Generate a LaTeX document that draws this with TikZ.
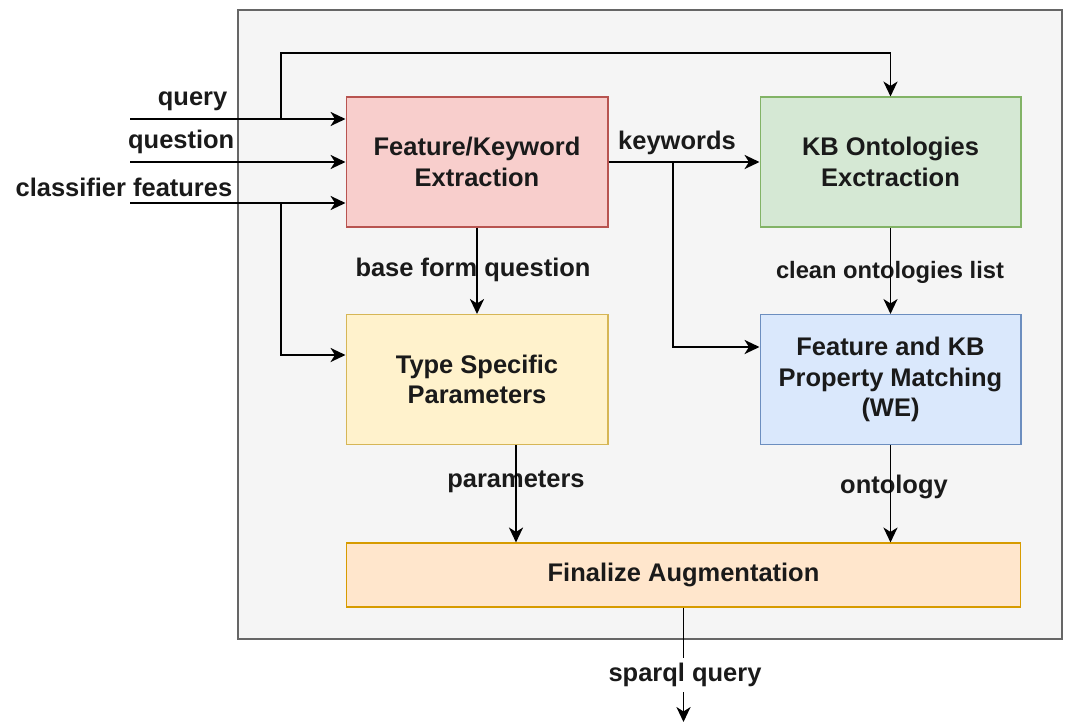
\documentclass[tikz,border=0pt]{standalone}
\usepackage{fontspec}
\setmainfont{Liberation Sans}
\usetikzlibrary{arrows.meta}
\definecolor{outerfill}{HTML}{F5F5F5}
\definecolor{outerline}{HTML}{666666}
\definecolor{redfill}{HTML}{F8CECC}
\definecolor{redline}{HTML}{B85450}
\definecolor{greenfill}{HTML}{D5E8D4}
\definecolor{greenline}{HTML}{82B366}
\definecolor{yelfill}{HTML}{FFF2CC}
\definecolor{yelline}{HTML}{D6B656}
\definecolor{bluefill}{HTML}{DAE8FC}
\definecolor{blueline}{HTML}{6C8EBF}
\definecolor{orfill}{HTML}{FFE6CC}
\definecolor{orline}{HTML}{D79B00}
\definecolor{txt}{HTML}{1A1A1A}
\tikzset{
  block/.style={draw, line width=0.6pt, minimum width=5.24cm, minimum height=2.6cm,
    align=center, text=txt, font=\bfseries\fontsize{14.5}{17.5}\selectfont},
  lbl/.style={text=txt, inner sep=1pt, font=\bfseries\fontsize{14.5}{17.5}\selectfont},
  smalllbl/.style={lbl, font=\bfseries\fontsize{13.5}{16}\selectfont}
}
\begin{document}
\begin{tikzpicture}[x=0.02cm,y=-0.02cm,line width=1.1pt,->,>={Stealth[length=8.5pt,width=8pt,inset=2.5pt]}]
  \useasboundingbox (0,0) rectangle (1076,727);
  \draw[-,fill=outerfill,draw=outerline,line width=0.8pt] (238,10) rectangle (1062,639);

  \node[block,fill=redfill,draw=redline] (feat) at (477,162) {Feature/Keyword\\Extraction};
  \node[block,fill=greenfill,draw=greenline,minimum width=5.22cm] (kbont) at (890.5,162) {KB Ontologies\\Exctraction};
  \node[block,fill=yelfill,draw=yelline] (typepar) at (477,379.5) {Type Specific\\Parameters};
  \node[block,fill=bluefill,draw=blueline,minimum width=5.22cm] (match) at (890.5,379.5) {Feature and KB\\Property Matching\\(WE)};
  \node[block,fill=orfill,draw=orline,minimum width=13.5cm,minimum height=1.28cm] (final) at (683.5,575) {Finalize Augmentation};

  \coordinate (qin) at (130,119);
  \coordinate (quin) at (130,162);
  \coordinate (cin) at (130,203);
  \coordinate (qb) at (281,119);
  \coordinate (qtop) at (281,53);
  \coordinate (cb) at (281,203);
  \coordinate (cturn) at (281,355);
  \coordinate (kb) at (673,162);
  \coordinate (kturn) at (673,347);
  \coordinate (pc) at (516,0);
  \coordinate (out) at (683.5,722);

  \node[lbl,anchor=south east] (lquery) at (230,114) {query};
  \node[lbl,anchor=south east] (lquestion) at (237,157) {question};
  \node[lbl,anchor=south east] (lclass) at (235,199) {classifier features};
  \node[lbl] (lkw) at (677,143) {keywords};
  \node[lbl] (lbase) at (473,270) {base form question};
  \node[smalllbl] (lclean) at (890,272) {clean ontologies list};
  \node[lbl] (lpar) at (516,482) {parameters};
  \node[lbl] (lont) at (894,487) {ontology};

  \draw (qin) -- (qin -| feat.west);
  \draw (quin) -- (quin -| feat.west);
  \draw (cin) -- (cin -| feat.west);
  \draw (qb) -- (qtop) -| (kbont.north);
  \draw (cb) -- (cturn) -- (cturn -| typepar.west);
  \draw (feat) -- (kbont);
  \draw (kb) -- (kturn) -- (kturn -| match.west);
  \draw (feat) -- (typepar);
  \draw (kbont) -- (match);
  \draw (typepar.south -| pc) -- (final.north -| pc);
  \draw (match.south) -- (match.south |- final.north);
  \draw (final) -- (out);
  \node[lbl,fill=white,inner sep=3pt] (lsparql) at (685,675) {sparql query};
\end{tikzpicture}
\end{document}
